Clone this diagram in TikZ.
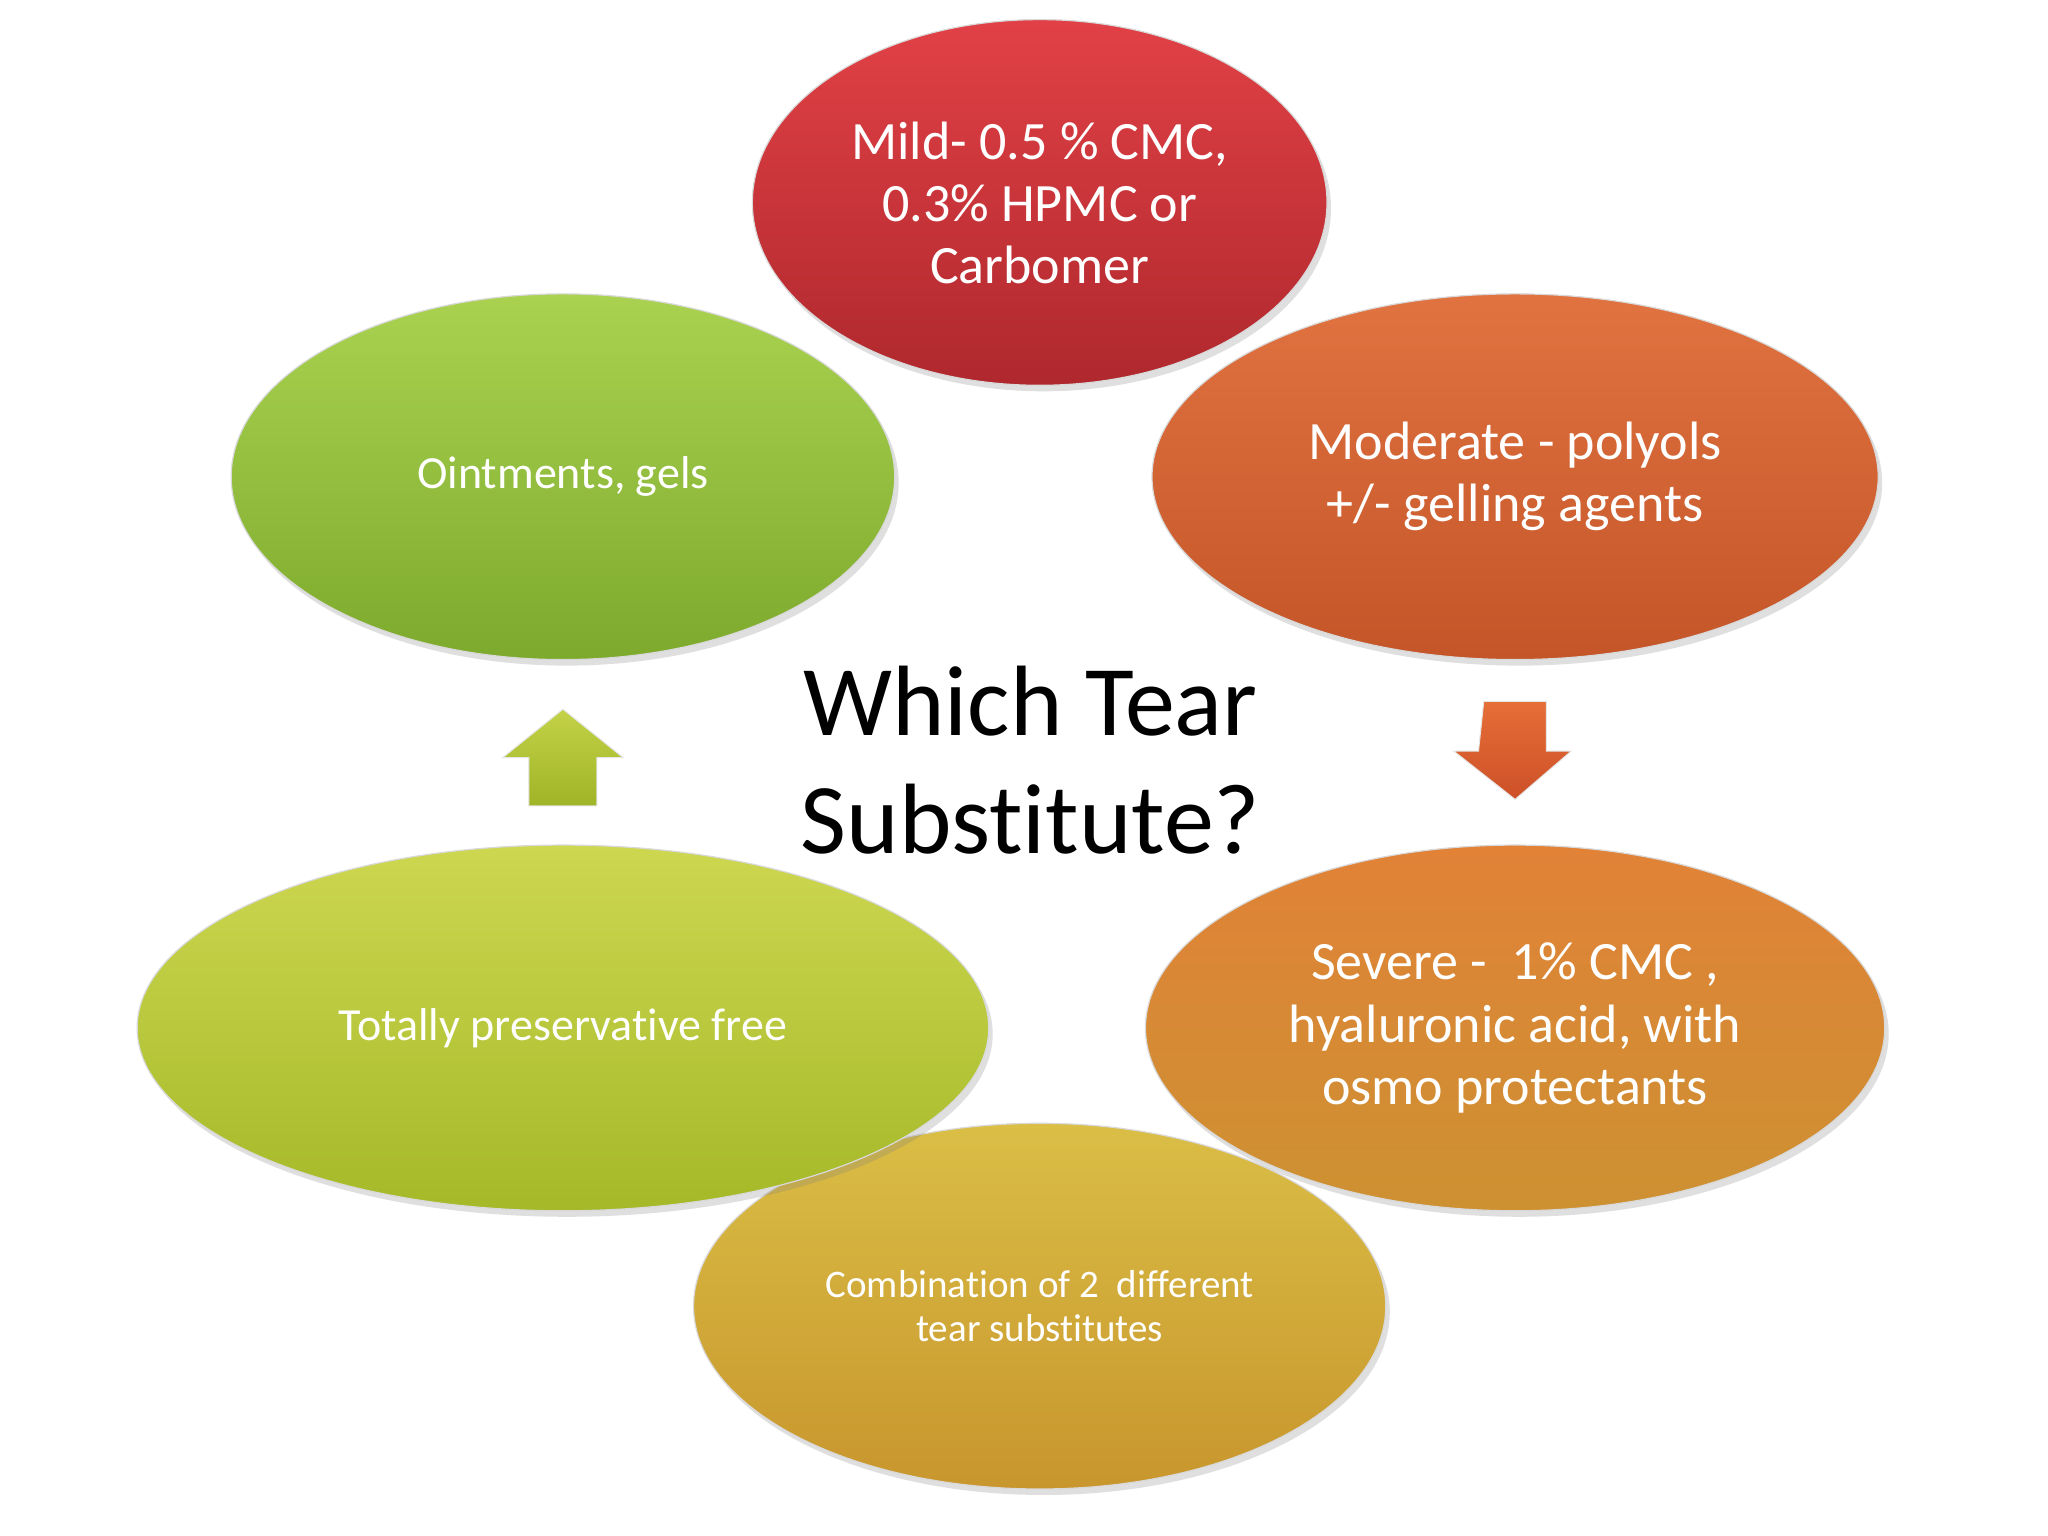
\documentclass[tikz,border=0pt]{standalone}
\usepackage{fontspec}
\setmainfont{Carlito}[Ligatures={NoCommon}]
\usetikzlibrary{shapes.geometric,shadows}
\tikzset{
 ell/.style={ellipse,align=center,text=white,draw=black!15,line width=0.6pt,drop shadow={shadow xshift=2pt,shadow yshift=-3pt,opacity=0.25}},
 blk/.style={draw=black!10,line width=0.5pt}
}
\begin{document}
\begin{tikzpicture}[x=0.653pt,y=-0.653pt]
\path[use as bounding box,fill=white] (0,0) rectangle (1568,1176);
\tikzset{every node/.append style={inner sep=0pt}}
\node[ell,minimum width=530*0.653pt,minimum height=280*0.653pt,top color={rgb,255:red,218;green,190;blue,70},bottom color={rgb,255:red,200;green,150;blue,45},font=\fontsize{19.5pt}{22pt}\selectfont] (bot) at (796,1000) {Combination of 2\ \ different\\tear substitutes};
\node[ell,minimum width=652*0.653pt,minimum height=280*0.653pt,top color={rgb,255:red,205;green,215;blue,80},bottom color={rgb,255:red,165;green,185;blue,40},font=\fontsize{23pt}{25pt}\selectfont] (ll) at (431,787) {Totally preservative free};
\node[ell,minimum width=566*0.653pt,minimum height=280*0.653pt,top color={rgb,255:red,225;green,130;blue,55},bottom color={rgb,255:red,205;green,145;blue,50},font=\fontsize{27pt}{31pt}\selectfont] (lr) at (1160,787) {Severe -\ \ 1\% CMC ,\\hyaluronic acid, with\\osmo protectants};
\node[ell,minimum width=508*0.653pt,minimum height=280*0.653pt,top color={rgb,255:red,170;green,210;blue,80},bottom color={rgb,255:red,125;green,170;blue,45},font=\fontsize{23pt}{25pt}\selectfont] (ul) at (431,365) {Ointments, gels};
\node[ell,minimum width=556*0.653pt,minimum height=280*0.653pt,top color={rgb,255:red,225;green,115;blue,65},bottom color={rgb,255:red,195;green,85;blue,40},font=\fontsize{27pt}{31pt}\selectfont] (ur) at (1160,365) {Moderate - polyols\\+/- gelling agents};
\node[ell,minimum width=440*0.653pt,minimum height=280*0.653pt,top color={rgb,255:red,225;green,65;blue,70},bottom color={rgb,255:red,175;green,40;blue,45},font=\fontsize{27pt}{31pt}\selectfont] (top) at (796,155) {Mild- 0.5 \% CMC,\\0.3\% HPMC or\\Carbomer};
% down arrow
\coordinate (ad) at (1160,537);
\shade[blk,top color={rgb,255:red,230;green,110;blue,55},bottom color={rgb,255:red,205;green,80;blue,40}]
 ([xshift=-24*0.653pt]ad) -- ++(48,0) -- ++(0,38) -- ++(19,0) -- (1160,612) -- (1113,575) -- ++(19,0) -- cycle;
% up arrow
\coordinate (au) at (431,543);
\shade[blk,top color={rgb,255:red,195;green,210;blue,70},bottom color={rgb,255:red,160;green,180;blue,40}]
 (au) -- (477,580) -- (457,580) -- (457,617) -- (405,617) -- (405,580) -- (385,580) -- cycle;
\node[align=center,font=\fontsize{50pt}{59pt}\selectfont] (title) at (789,582) {Which Tear\\Substitute?};
\end{tikzpicture}
\end{document}
